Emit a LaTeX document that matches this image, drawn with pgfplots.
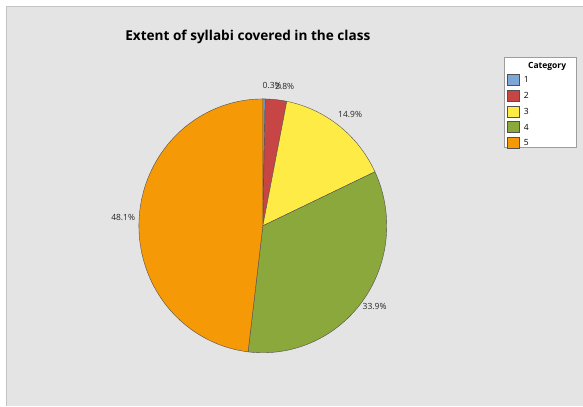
\documentclass[border=0pt]{standalone}
\usepackage{pgfplots}
\pgfplotsset{compat=1.18}
\usepackage{fontspec}
\setmainfont{Open Sans}
\definecolor{bg}{HTML}{E4E4E4}
\definecolor{bordergray}{HTML}{C4C4C4}
\definecolor{edge}{HTML}{505050}
\definecolor{cA}{HTML}{7DA7D9}
\definecolor{cB}{HTML}{C84545}
\definecolor{cC}{HTML}{FFEB46}
\definecolor{cD}{HTML}{8BA83C}
\definecolor{cE}{HTML}{F59A06}
% percentages of the five categories
\newcommand\pA{0.3}
\newcommand\pB{2.8}
\newcommand\pC{14.9}
\newcommand\pD{33.9}
\newcommand\pE{48.1}
\begin{document}
\begin{tikzpicture}
\pgfmathsetmacro\cx{263}\pgfmathsetmacro\cy{226}
\pgfmathsetmacro\rx{124}\pgfmathsetmacro\ry{127}
\pgfmathsetmacro\aA{0}
\pgfmathsetmacro\aB{\aA+3.6*\pA}
\pgfmathsetmacro\aC{\aB+3.6*\pB}
\pgfmathsetmacro\aD{\aC+3.6*\pC}
\pgfmathsetmacro\aE{\aD+3.6*\pD}
\pgfmathsetmacro\aF{\aE+3.6*\pE}
\pgfmathsetmacro\lxA{\cx+140*sin((\aA+\aB)/2)+8}\pgfmathsetmacro\lyA{\cy-140*cos((\aA+\aB)/2)}
\pgfmathsetmacro\lxB{\cx+140*sin((\aB+\aC)/2)+7}\pgfmathsetmacro\lyB{\cy-140*cos((\aB+\aC)/2)}
\pgfmathsetmacro\lxC{\cx+142*sin((\aC+\aD)/2)}\pgfmathsetmacro\lyC{\cy-142*cos((\aC+\aD)/2)}
\pgfmathsetmacro\lxD{\cx+138*sin((\aD+\aE)/2)}\pgfmathsetmacro\lyD{\cy-138*cos((\aD+\aE)/2)}
\pgfmathsetmacro\lxE{\cx+140*sin((\aE+\aF)/2)}\pgfmathsetmacro\lyE{\cy-140*cos((\aE+\aF)/2)}
\begin{axis}[
  width=583pt, height=406pt, scale only axis,
  xmin=0, xmax=583, ymin=0, ymax=406, y dir=reverse,
  hide axis, clip=false,
  legend image code/.code={\draw[#1,line width=0.5pt] (0pt,-5pt) rectangle (12pt,6pt); \path (15pt,0pt);},
  legend style={at={(axis cs:507,74)}, anchor=north west, draw=none, fill=none,
    font=\fontsize{8.5}{10}\selectfont, inner sep=0pt, row sep=3.5pt,
    nodes={inner sep=1.5pt, text height=7pt, text depth=2pt}},
  legend cell align=left,
]
\fill[white] (axis cs:0,0) rectangle (axis cs:583,406);
\fill[bg] (axis cs:6,6) rectangle (axis cs:583,406);
\draw[bordergray, line width=0.8pt] (axis cs:6,406) -- (axis cs:6,6) -- (axis cs:583,6);
\draw[bordergray!80!black, fill=white, line width=0.6pt] (axis cs:505,57) rectangle (axis cs:577,147);
\node[font=\fontsize{8.5}{10}\selectfont\bfseries, anchor=east] at (axis cs:570,66) {Category};

\addplot[draw=edge, fill=cA, line width=0.4pt, domain=\aA:\aB, samples=10, variable=\t]
  ({\cx+\rx*sin(t)},{\cy-\ry*cos(t)}) -- (axis cs:\cx,\cy) -- cycle;
\addplot[draw=edge, fill=cB, line width=0.4pt, domain=\aB:\aC, samples=10, variable=\t]
  ({\cx+\rx*sin(t)},{\cy-\ry*cos(t)}) -- (axis cs:\cx,\cy) -- cycle;
\addplot[draw=edge, fill=cC, line width=0.4pt, domain=\aC:\aD, samples=30, variable=\t]
  ({\cx+\rx*sin(t)},{\cy-\ry*cos(t)}) -- (axis cs:\cx,\cy) -- cycle;
\addplot[draw=edge, fill=cD, line width=0.4pt, domain=\aD:\aE, samples=60, variable=\t]
  ({\cx+\rx*sin(t)},{\cy-\ry*cos(t)}) -- (axis cs:\cx,\cy) -- cycle;
\addplot[draw=edge, fill=cE, line width=0.4pt, domain=\aE:\aF, samples=80, variable=\t]
  ({\cx+\rx*sin(t)},{\cy-\ry*cos(t)}) -- (axis cs:\cx,\cy) -- cycle;
\legend{1,2,3,4,5}

\node[font=\fontsize{13.6}{16}\selectfont\bfseries] at (axis cs:248,37) {Extent of syllabi covered in the class};
\begin{scope}[every node/.style={font=\fontsize{8.5}{10}\selectfont, text=black!85}]
\node at (axis cs:\lxA,\lyA) {0.3\%};
\node at (axis cs:\lxB,\lyB) {2.8\%};
\node at (axis cs:\lxC,\lyC) {14.9\%};
\node at (axis cs:\lxD,\lyD) {33.9\%};
\node at (axis cs:\lxE,\lyE) {48.1\%};
\end{scope}
\end{axis}
\end{tikzpicture}
\end{document}
